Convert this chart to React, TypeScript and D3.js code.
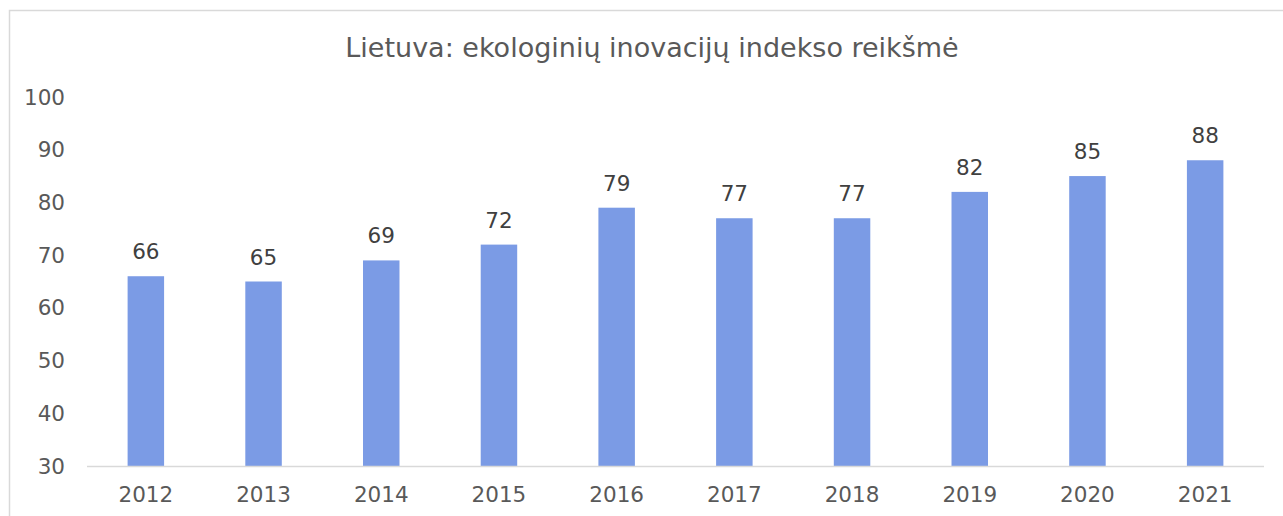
import React from "react";
import { scaleBand, scaleLinear } from "d3";

const years = ["2012", "2013", "2014", "2015", "2016", "2017", "2018", "2019", "2020", "2021"];
const values = [66, 65, 69, 72, 79, 77, 77, 82, 85, 88];
const yTicks = [30, 40, 50, 60, 70, 80, 90, 100];
const title = "Lietuva: ekologinių inovacijų indekso reikšmė";

export default function App() {
  const width = 1283;
  const height = 516;
  const plot = { left: 87, right: 1264, top: 97, bottom: 466 };

  const x = scaleBand<string>()
    .domain(years)
    .range([plot.left, plot.right])
    .paddingInner(0.69)
    .paddingOuter(0.345);
  const y = scaleLinear().domain([30, 100]).range([plot.bottom, plot.top]);

  const font = "Verdana, 'DejaVu Sans', sans-serif";

  return (
    <svg
      width={width}
      height={height}
      style={{ position: "absolute", left: 0, top: 0 }}
      fontFamily={font}
    >
      <rect x={0} y={0} width={width} height={height} fill="white" />
      <rect x={9.5} y={10.5} width={1300} height={600} fill="white" stroke="#d9d9d9" strokeWidth={1.5} />
      <text x={652} y={57} textAnchor="middle" fontSize={27} fill="#595959">
        {title}
      </text>
      {yTicks.map((t) => (
        <text key={t} x={65} y={y(t) + 7.5} textAnchor="end" fontSize={21.5} fill="#595959">
          {t}
        </text>
      ))}
      {years.map((yr, i) => (
        <g key={yr}>
          <rect
            x={x(yr)}
            y={y(values[i])}
            width={x.bandwidth()}
            height={plot.bottom - y(values[i])}
            fill="#7b9be5"
          />
          <text
            x={(x(yr) ?? 0) + x.bandwidth() / 2}
            y={y(values[i]) - 17}
            textAnchor="middle"
            fontSize={21.5}
            fill="#404040"
          >
            {values[i]}
          </text>
          <text
            x={(x(yr) ?? 0) + x.bandwidth() / 2}
            y={502}
            textAnchor="middle"
            fontSize={21.5}
            fill="#595959"
          >
            {yr}
          </text>
        </g>
      ))}
      <line x1={plot.left} x2={plot.right} y1={plot.bottom + 0.5} y2={plot.bottom + 0.5} stroke="#d9d9d9" strokeWidth={1.5} />
    </svg>
  );
}
